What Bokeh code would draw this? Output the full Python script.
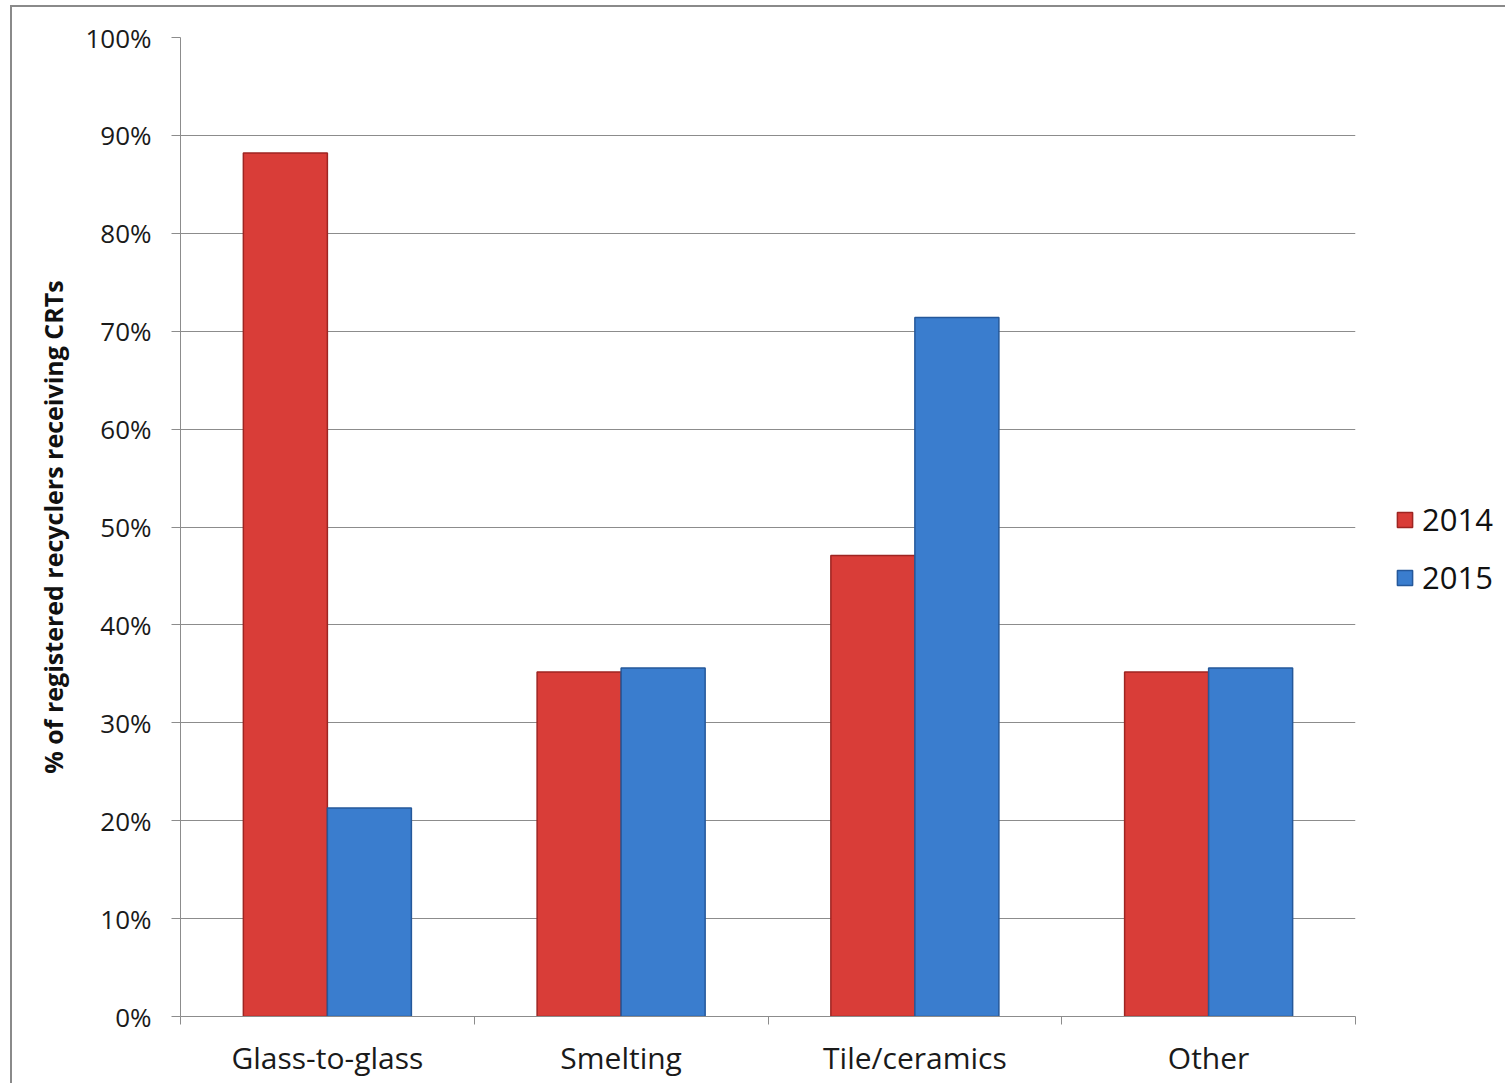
from bokeh.plotting import figure
from bokeh.models import (Range1d, FixedTicker, NumeralTickFormatter, Legend, LegendItem,
                          ColumnDataSource)
from bokeh.embed import file_html
from bokeh.resources import INLINE

categories = ["Glass-to-glass", "Smelting", "Tile/ceramics", "Other"]
series_names = ["2014", "2015"]
values_2014 = [0.882, 0.352, 0.471, 0.352]
values_2015 = [0.213, 0.356, 0.714, 0.356]
y_ticks = [0, 0.1, 0.2, 0.3, 0.4, 0.5, 0.6, 0.7, 0.8, 0.9, 1.0]

FONT = "Open Sans"
RED = "#D93D38"
RED_LINE = "#9E2522"
BLUE = "#3A7DCE"
BLUE_LINE = "#25589A"

n = len(categories)
centers = [i + 0.5 for i in range(n)]
bar_w = 0.286

p = figure(frame_width=1175, frame_height=979, output_backend="svg", toolbar_location=None,
           x_range=Range1d(0, n), y_range=Range1d(0, 1.0),
           min_border_left=168, min_border_right=10, min_border_top=30, min_border_bottom=67)
p.margin = (5, 0, 0, 10)
p.styles = {"border-top": "2px solid #8a8a8a", "border-left": "2px solid #8a8a8a"}

src = ColumnDataSource(dict(
    x14=[c - bar_w / 2 for c in centers],
    x15=[c + bar_w / 2 for c in centers],
    v14=values_2014, v15=values_2015))

r14 = p.vbar(x="x14", top="v14", width=bar_w, source=src, fill_color=RED,
             line_color=RED_LINE, line_width=1.5)
r15 = p.vbar(x="x15", top="v15", width=bar_w, source=src, fill_color=BLUE,
             line_color=BLUE_LINE, line_width=1.5)

p.outline_line_color = None
p.background_fill_color = "white"
p.border_fill_color = "white"

# grid
p.xgrid.grid_line_color = None
p.ygrid.ticker = FixedTicker(ticks=y_ticks)
p.ygrid.grid_line_color = "#8c8c8c"
p.ygrid.grid_line_width = 1

# y axis
p.yaxis.ticker = FixedTicker(ticks=y_ticks)
p.yaxis.formatter = NumeralTickFormatter(format="0%")
p.yaxis.axis_line_color = "#8c8c8c"
p.yaxis.major_tick_line_color = "#8c8c8c"
p.yaxis.major_tick_out = 9
p.yaxis.major_tick_in = 0
p.yaxis.minor_tick_line_color = None
p.yaxis.major_label_text_font = FONT
p.yaxis.major_label_text_font_size = "26px"
p.yaxis.major_label_text_color = "#1a1a1a"
p.yaxis.major_label_standoff = 20
p.yaxis.axis_label = "% of registered recyclers receiving CRTs"
p.yaxis.axis_label_text_font = FONT
p.yaxis.axis_label_text_font_size = "25px"
p.yaxis.axis_label_text_font_style = "bold"
p.yaxis.axis_label_text_color = "#111111"
p.yaxis.axis_label_standoff = 12

# x axis
p.xaxis.ticker = FixedTicker(ticks=centers, minor_ticks=list(range(n + 1)))
p.xaxis.major_label_overrides = {c: cat for c, cat in zip(centers, categories)}
p.xaxis.major_tick_line_color = None
p.xaxis.minor_tick_line_color = "#8c8c8c"
p.xaxis.minor_tick_out = 8
p.xaxis.minor_tick_in = 0
p.xaxis.axis_line_color = "#8c8c8c"
p.xaxis.major_label_text_font = FONT
p.xaxis.major_label_text_font_size = "30px"
p.xaxis.major_label_text_color = "#1a1a1a"
p.xaxis.major_label_standoff = 12

legend = Legend(items=[LegendItem(label=series_names[0], renderers=[r14]),
                       LegendItem(label=series_names[1], renderers=[r15])],
                location=(40, 418), label_text_font=FONT, label_text_font_size="31px",
                label_text_color="#111111", glyph_width=19, glyph_height=19,
                spacing=16, border_line_color=None, background_fill_alpha=0,
                padding=0, margin=40, label_standoff=8)
p.add_layout(legend, "right")

open("out.html", "w").write(file_html(p, INLINE))
